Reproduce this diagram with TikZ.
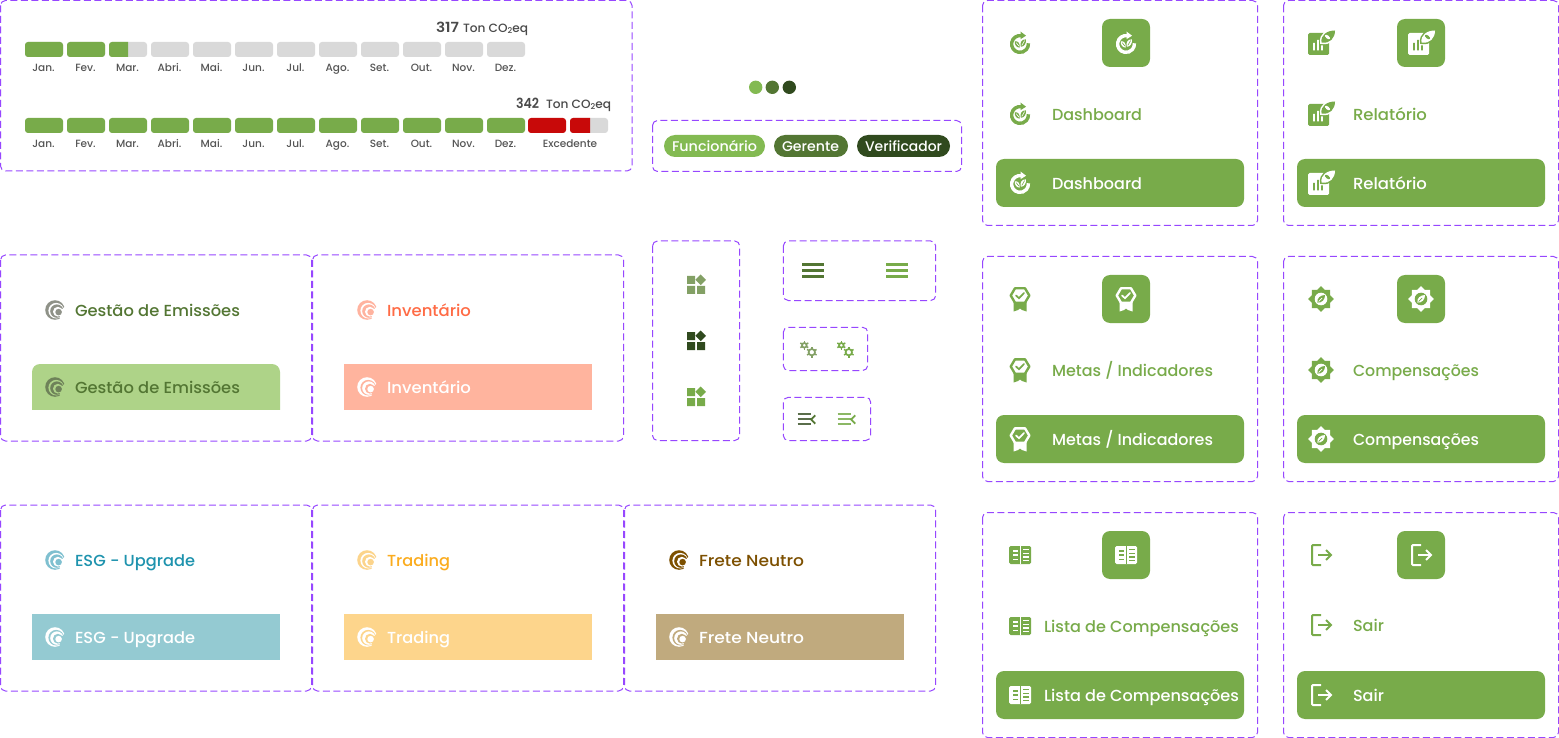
\documentclass[tikz,border=0pt]{standalone}
\usepackage{fontspec}
\usepackage{graphicx}
\setmainfont{Poppins}[UprightFont={* Medium},BoldFont={* SemiBold}]
\definecolor{frm}{HTML}{9747FF}
\definecolor{grn}{HTML}{78AB4A}
\definecolor{lgrn}{HTML}{83BA52}
\definecolor{mgrn}{HTML}{537633}
\definecolor{dgrn}{HTML}{304A1E}
\definecolor{sgrn}{HTML}{83A065}
\definecolor{gry}{HTML}{D9D9D9}
\definecolor{redx}{HTML}{C80909}
\definecolor{txg}{HTML}{4A4A4A}
\definecolor{lbl}{HTML}{555555}
\definecolor{gI}{HTML}{8F9288}\definecolor{gB}{HTML}{AED388}\definecolor{gJ}{HTML}{6E8259}
\definecolor{iI}{HTML}{FFB39F}\definecolor{iT}{HTML}{FF6B45}\definecolor{iB}{HTML}{FFB49E}
\definecolor{eI}{HTML}{7FC0D0}\definecolor{eT}{HTML}{1E93AE}\definecolor{eB}{HTML}{94CAD2}
\definecolor{tI}{HTML}{FCD48B}\definecolor{tT}{HTML}{FBAC1E}\definecolor{tB}{HTML}{FDD58C}
\definecolor{fI}{HTML}{7D5000}\definecolor{fB}{HTML}{C0AA7E}
\tikzset{
  x=1pt,y=-1pt,
  frame/.style={draw=frm,line width=1pt,dash pattern=on 7pt off 3.5pt,rounded corners=5pt},
  txt/.style={inner sep=0pt,outer sep=0pt,anchor=base west},
  mon/.style={inner sep=0pt,outer sep=0pt,anchor=base,text=lbl,font=\fontsize{10.5}{10.5}\selectfont},
  btn/.style={fill=grn,rounded corners=8pt},
  bar/.style={rounded corners=3pt},
  pill/.style={rounded corners=11pt}
}
\newcommand{\fit}[2]{\resizebox{#1pt}{\height}{#2}}
\newcommand{\tx}[7]{\node[txt,text=#6] (#1) at ({#2},{#3}) {\fontsize{#4}{#4}\selectfont\fit{#5}{#7}};}
% icons: x y fg bg
\newcommand{\icDash}[4]{\begin{scope}[shift={({#1},{#2})}]
  \draw[#3,line width=3.4pt] (0,1) ++(80:8.4pt) arc[start angle=80,end angle=365,radius=8.4pt];
  \fill[#3] (0.5,-11.5) -- (6,-7.3) -- (0.5,-3.8) -- cycle;
  \fill[#3] (-5.2,-1.8) .. controls (-1.5,-2) and (0,0.5) .. (-0.4,4.6) .. controls (-3.5,4.5) and (-5.5,2) .. (-5.2,-1.8) -- cycle;
  \fill[#3] (5.8,-3.6) .. controls (2,-3.8) and (-0.3,-1) .. (0.8,3.8) .. controls (4,3.8) and (6.5,0.5) .. (5.8,-3.6) -- cycle;
  \draw[#4,line width=0.6pt] (-3.8,-0.3) -- (-1.2,3) (4.6,-2.4) -- (1.8,2.4);
\end{scope}}
\newcommand{\icRep}[4]{\begin{scope}[shift={({#1},{#2})}]
  \fill[#3,rounded corners=1.5pt] (-13,-10) rectangle (8,12);
  \draw[#4,fill=#4,line width=3pt] (0.5,-0.5) .. controls (-0.5,-8) and (6,-12.5) .. (14,-12.5) .. controls (14,-5) and (9,1) .. (0.5,-0.5) -- cycle;
  \fill[#3] (0.5,-0.5) .. controls (-0.5,-8) and (6,-12.5) .. (14,-12.5) .. controls (14,-5) and (9,1) .. (0.5,-0.5) -- cycle;
  \fill[#4,rotate around={-40:(6.5,-6)}] (6.5,-6) ellipse[x radius=3pt,y radius=1.5pt];
  \fill[#4] (-8,0) rectangle (-6.2,7.5) (-4,-3) rectangle (-2.2,7.5) (0,2.5) rectangle (1.8,7.5);
\end{scope}}
\newcommand{\icGoal}[4]{\begin{scope}[shift={({#1},{#2})}]
  \fill[#3] (-6.5,3) -- (-6.5,12.5) -- (-2,11) -- (0,9.5) -- (2,11) -- (6.5,12.5) -- (6.5,3) -- cycle;
  \draw[#3,line width=2.4pt,fill=#4,line join=round] (-9.3,-3.5) -- (-5,-10.7) -- (5,-10.7) -- (9.3,-3.5) -- (5,3.7) -- (-5,3.7) -- cycle;
  \draw[#3,line width=1.7pt,line cap=round] (-4,-3.5) -- (-1,-0.8) -- (4,-6);
\end{scope}}
\newcommand{\icComp}[4]{\begin{scope}[shift={({#1},{#2})}]
  \fill[#3] (90:12.8pt) -- (67.5:9.8pt) -- (45:12.8pt) -- (22.5:9.8pt) -- (0:12.8pt) -- (-22.5:9.8pt) -- (-45:12.8pt) -- (-67.5:9.8pt) -- (-90:12.8pt) -- (-112.5:9.8pt) -- (-135:12.8pt) -- (-157.5:9.8pt) -- (180:12.8pt) -- (157.5:9.8pt) -- (135:12.8pt) -- (112.5:9.8pt) -- cycle;
  \fill[#4] (0,0) circle[radius=6.3pt];
  \fill[#3] (-3.6,3.6) .. controls (-4.2,-1) and (-0.5,-3.8) .. (4,-4) .. controls (4,0.5) and (1,4) .. (-3.6,3.6) -- cycle;
  \draw[#4,line width=0.7pt] (-2.5,2.5) -- (1,-1);
\end{scope}}
\newcommand{\icList}[4]{\begin{scope}[shift={({#1},{#2})}]
  \fill[#3,rounded corners=1.5pt] (-11,-9) rectangle (11,9);
  \fill[#4] (-0.4,-9) rectangle (0.7,9);
  \foreach \yy in {-4.2,0,4.2}{\fill[#4] (-7.5,{\yy-0.7}) rectangle (-2.5,{\yy+0.7});}
  \foreach \yy in {-5.7,-1.9,1.9,5.7}{\fill[#4] (3,{\yy-0.6}) rectangle (8.5,{\yy+0.6});}
\end{scope}}
\newcommand{\icExit}[4]{\begin{scope}[shift={({#1},{#2})}]
  \draw[#3,line width=2pt,rounded corners=1pt] (0,-10) -- (-9,-10) -- (-9,10) -- (0,10);
  \draw[#3,line width=2pt] (-3,0) -- (10,0);
  \draw[#3,line width=2pt] (5,-5) -- (10,0) -- (5,5);
\end{scope}}
% logo: x y fg bg
\newcommand{\logoI}[4]{\begin{scope}[shift={({#1},{#2})}]
  \fill[#3] (0,0) circle[radius=9.8pt];
  \fill[#4] (1.2,0.7) circle[radius=7.8pt];
  \fill[#3] (1.9,1.1) circle[radius=6.7pt];
  \fill[#4] (2.9,1.7) circle[radius=4.9pt];
  \fill[#4] (3.6,2.1) -- ++(40:15pt) -- ++(-90:15pt) -- cycle;
  \fill[#4] (3.6,2.1) -- ++(-75:13pt) -- ++(0:13pt) -- ++(90:12pt) -- cycle;
  \fill[#3] (3.6,2.1) circle[radius=3.3pt];
\end{scope}}
\newcommand{\navcard}[8]{%
  \draw[frame] ({#2+0.5},{#3+0.5}) rectangle ({#2+275.5},{#3+225.5});
  \fill[btn] ({#2+#4},{#3+19}) rectangle ({#2+#4+48},{#3+67});
  \fill[btn] ({#2+14},{#3+159}) rectangle ({#2+262},{#3+207});
  #5{#2+38}{#3+43}{grn}{white}
  #5{#2+#4+24}{#3+43}{white}{grn}
  #5{#2+38}{#3+114+\rtwo}{grn}{white}
  #5{#2+38}{#3+183}{white}{grn}
  \tx{#1a}{#2+#6}{#3+120+\tdy+\rtwo}{16}{#7}{grn}{#8}
  \tx{#1b}{#2+#6}{#3+189+\tdy}{16}{#7}{white}{#8}
}
\newcommand{\panel}[9]{%
  \draw[frame] ({#2+0.5},{#3}) rectangle ({#2+311.5},{#3+186});
  \begin{scope}
    \clip ({#2+32},{#3+109}) rectangle ({#2+280},{#3+154});
    \fill[#6,rounded corners=\curr pt] ({#2+32},{#3+109}) rectangle ({#2+280},{#3+174});
  \end{scope}
  \logoI{#2+55}{#3+55}{#4}{white}
  \logoI{#2+55}{#3+132}{#7}{#6}
  \tx{#1a}{#2+75}{#3+61}{16}{\curw}{#5}{#9}
  \tx{#1b}{#2+75}{#3+138}{16}{\curw}{#8}{#9}
}
\newcommand{\gridI}[3]{\begin{scope}[shift={({#1},{#2})}]
  \fill[#3] (0,0) rectangle (8,8) (0,10) rectangle (8,18) (10,10) rectangle (18,18);
  \fill[#3] (13.7,-1.5) -- (19,3.8) -- (13.7,9.1) -- (8.4,3.8) -- cycle;
\end{scope}}
\newcommand{\burger}[2]{\foreach \yy in {264.7,270.7,276.7}{\draw[#2,line width=2.6pt] (#1,\yy) -- ({#1+21.5},\yy);}}
\newcommand{\gearI}[4]{\begin{scope}[shift={({#1},{#2})}]
  \draw[#4,line width=1.7pt] (0,0) circle[radius=#3pt];
  \pgfmathsetmacro{\rout}{#3+2.3}
  \foreach \an in {30,90,150,210,270,330}{\draw[#4,line width=1.5pt] (\an:#3pt) -- (\an:\rout pt);}
\end{scope}}
\newcommand{\collapseI}[3]{%
  \foreach \yy in {414,419,424.3}{\draw[#3,line width=1.8pt] (#1,\yy) -- ({#1+13},\yy);}
  \draw[#2,line width=1.8pt] ({#1+17.5},415.3) -- ({#1+13.5},419.5) -- ({#1+17.5},423.7);
}
\begin{document}
\begin{tikzpicture}
\useasboundingbox (0,0) rectangle (1559,738);
\fill[white] (0,0) rectangle (1559,738);
% consumption panel
\draw[frame] (0.5,0.5) rectangle (632,171);
\tx{vA}{436}{32.5}{14}{23}{txg}{\bfseries 317}
\tx{uA}{463}{32.5}{12}{65}{txg}{Ton CO\raisebox{-1.5pt}{\fontsize{8}{8}\selectfont 2}eq}
\tx{vB}{516}{108.5}{14}{23}{txg}{\bfseries 342}
\tx{uB}{546}{108.5}{12}{65}{txg}{Ton CO\raisebox{-1.5pt}{\fontsize{8}{8}\selectfont 2}eq}
\foreach \i/\m in {0/Jan.,1/Fev.,2/Mar.,3/Abri.,4/Mai.,5/Jun.,6/Jul.,7/Ago.,8/Set.,9/Out.,10/Nov.,11/Dez.}{
  \pgfmathsetmacro{\bx}{25+42*\i}
  \fill[bar,gry] (\bx,42) rectangle ({\bx+38},57);
  \fill[bar,grn] (\bx,118) rectangle ({\bx+38},133);
  \node[mon] (ma\i) at ({\bx+18.5},72) {\m};
  \node[mon] (mb\i) at ({\bx+18.5},148) {\m};
}
\fill[bar,grn] (25,42) rectangle (63,57);
\fill[bar,grn] (67,42) rectangle (105,57);
\begin{scope}\clip (109,40) rectangle (128,59);\fill[bar,grn] (109,42) rectangle (147,57);\end{scope}
\fill[bar,redx] (528,118) rectangle (566,133);
\fill[bar,gry] (570,118) rectangle (608,133);
\begin{scope}\clip (568,116) rectangle (590,135);\fill[bar,redx] (570,118) rectangle (608,133);\end{scope}
\node[mon] (mx) at (570,148) {Excedente};
% dots
\fill[lgrn] (755.7,87.3) circle[radius=6.7pt];
\fill[mgrn] (772.3,87.3) circle[radius=6.7pt];
\fill[dgrn] (789.3,87.3) circle[radius=6.7pt];
% pills
\draw[frame] (652.5,120.5) rectangle (961.5,171.5);
\fill[pill,lgrn] (664,135) rectangle (765,157);
\fill[pill,mgrn] (774,135) rectangle (848,157);
\fill[pill,dgrn] (857,135) rectangle (950,157);
\tx{pa}{672}{152}{14}{85}{white}{Funcionário}
\tx{pb}{782}{152}{14}{57}{white}{Gerente}
\tx{pc}{865}{152}{14}{77}{white}{Verificador}
% logo panels
\def\curr{8}\def\curw{165}\panel{g}{0}{255}{gI}{mgrn}{gB}{gJ}{mgrn}{Gestão de Emissões}
\def\curr{0}\def\curw{84}\panel{i}{312}{255}{iI}{iT}{iB}{white}{white}{Inventário}
\def\curw{120}\panel{e}{0}{505}{eI}{eT}{eB}{white}{white}{ESG - Upgrade}
\def\curw{63}\panel{t}{312}{505}{tI}{tT}{tB}{white}{white}{Trading}
\def\curw{105}\panel{f}{624}{505}{fI}{fI}{fB}{white}{white}{Frete Neutro}
% small icons
\draw[frame] (652.5,241) rectangle (739.7,440.5);
\gridI{687}{276}{sgrn}
\gridI{687}{332}{dgrn}
\gridI{687}{388}{grn}
\draw[frame] (783.3,241) rectangle (935.7,300.5);
\burger{802.3}{mgrn}
\burger{886.3}{grn}
\draw[frame] (783.3,327.3) rectangle (867.7,370.5);
\gearI{804.3}{345.3}{2.3}{sgrn}
\gearI{811.8}{352.2}{3.2}{sgrn}
\gearI{841.3}{345.3}{2.3}{grn}
\gearI{848.8}{352.2}{3.2}{grn}
\draw[frame] (783.3,397.3) rectangle (870.7,440.5);
\collapseI{797.7}{mgrn}{dgrn!80!white}
\collapseI{837.7}{grn}{grn!85!white}
% nav cards
\def\rtwo{0}\def\tdy{1}
\navcard{da}{982}{0}{120}{\icDash}{70}{90}{Dashboard}
\navcard{re}{1283}{0}{114}{\icRep}{70}{74}{Relatório}
\def\tdy{0}
\navcard{me}{982}{256}{120}{\icGoal}{70}{161}{Metas / Indicadores}
\navcard{co}{1283}{256}{114}{\icComp}{70}{126}{Compensações}
\navcard{li}{982}{512}{120}{\icList}{62}{195}{Lista de Compensações}
\def\rtwo{-1}
\navcard{sa}{1283}{512}{114}{\icExit}{70}{31}{Sair}
\end{tikzpicture}
\end{document}
